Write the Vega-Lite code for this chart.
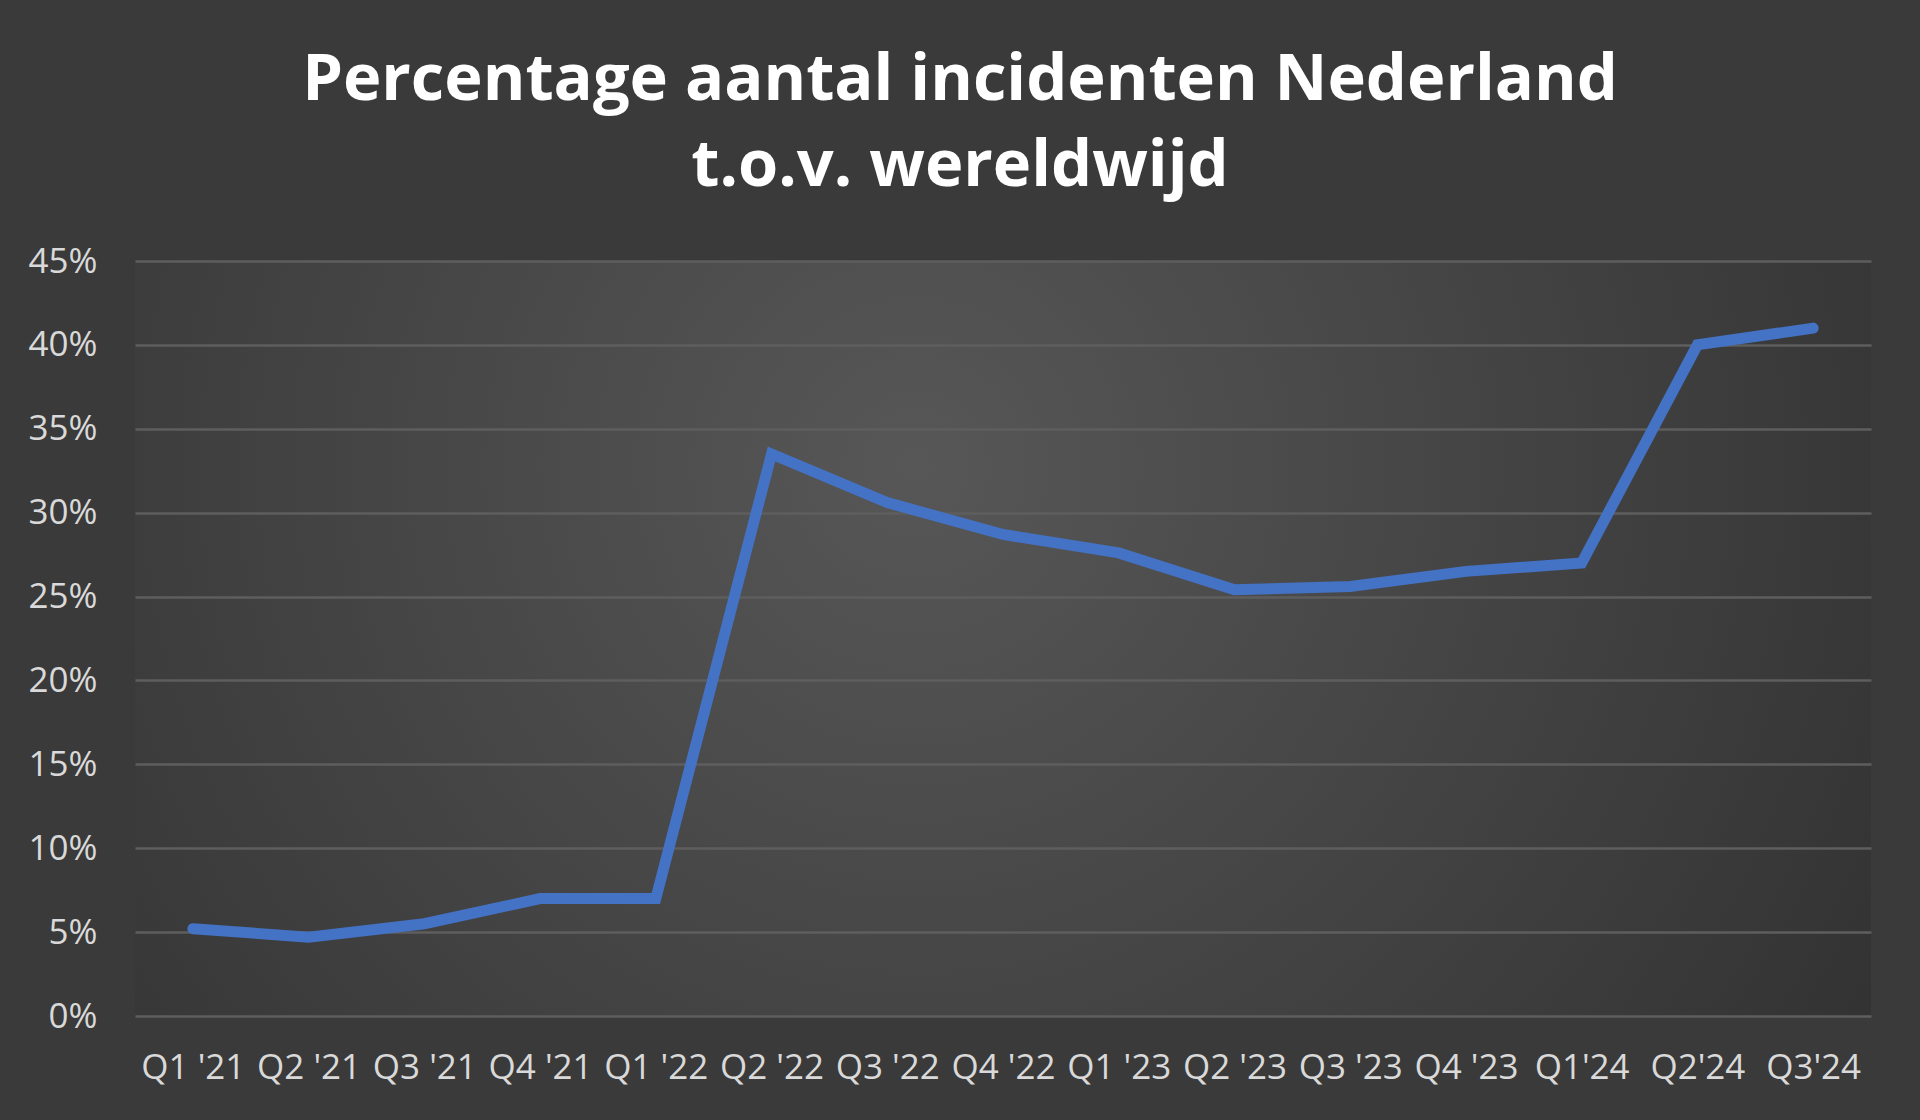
{
  "$schema": "https://vega.github.io/schema/vega-lite/v6.json",
  "width": 1736,
  "height": 755,
  "autosize": {"type": "none"},
  "padding": {"left": 135, "top": 261, "right": 49, "bottom": 104},
  "background": "#3a3a3a",
  "title": {
    "text": ["Percentage aantal incidenten Nederland", "t.o.v. wereldwijd"],
    "font": "Open Sans",
    "fontSize": 65,
    "fontWeight": "bold",
    "color": "#ffffff",
    "anchor": "middle",
    "dx": -43,
    "offset": 44,
    "lineHeight": 86
  },
  "config": {
    "view": {
      "stroke": null,
      "fill": {
        "gradient": "radial",
        "x1": 0.45, "y1": 0.4, "r1": 0,
        "x2": 0.45, "y2": 0.4, "r2": 0.75,
        "stops": [
          {"offset": 0, "color": "#575757"},
          {"offset": 1, "color": "#2c2c2c"}
        ]
      }
    },
    "axis": {
      "labelFont": "Open Sans",
      "labelFontSize": 35,
      "labelColor": "#d9d9d9",
      "domain": false,
      "ticks": false,
      "title": null
    }
  },
  "data": {
    "values": [
      {"q": "Q1 '21", "v": 0.052},
      {"q": "Q2 '21", "v": 0.047},
      {"q": "Q3 '21", "v": 0.055},
      {"q": "Q4 '21", "v": 0.070},
      {"q": "Q1 '22", "v": 0.070},
      {"q": "Q2 '22", "v": 0.335},
      {"q": "Q3 '22", "v": 0.306},
      {"q": "Q4 '22", "v": 0.287},
      {"q": "Q1 '23", "v": 0.276},
      {"q": "Q2 '23", "v": 0.254},
      {"q": "Q3 '23", "v": 0.256},
      {"q": "Q4 '23", "v": 0.265},
      {"q": "Q1'24", "v": 0.270},
      {"q": "Q2'24", "v": 0.400},
      {"q": "Q3'24", "v": 0.410}
    ]
  },
  "mark": {"type": "line", "color": "#4472C4", "strokeWidth": 11, "strokeCap": "round", "strokeJoin": "miter"},
  "encoding": {
    "x": {
      "field": "q", "type": "ordinal", "sort": null,
      "scale": {"type": "point", "padding": 0.5},
      "axis": {"labelAngle": 0, "grid": false, "labelPadding": 34}
    },
    "y": {
      "field": "v", "type": "quantitative",
      "scale": {"domain": [0, 0.45], "nice": false},
      "axis": {
        "values": [0, 0.05, 0.1, 0.15, 0.2, 0.25, 0.3, 0.35, 0.4, 0.45],
        "format": ".0%",
        "grid": true,
        "gridColor": "#5e5e5e",
        "gridWidth": 2.5,
        "labelPadding": 38
      }
    }
  }
}
